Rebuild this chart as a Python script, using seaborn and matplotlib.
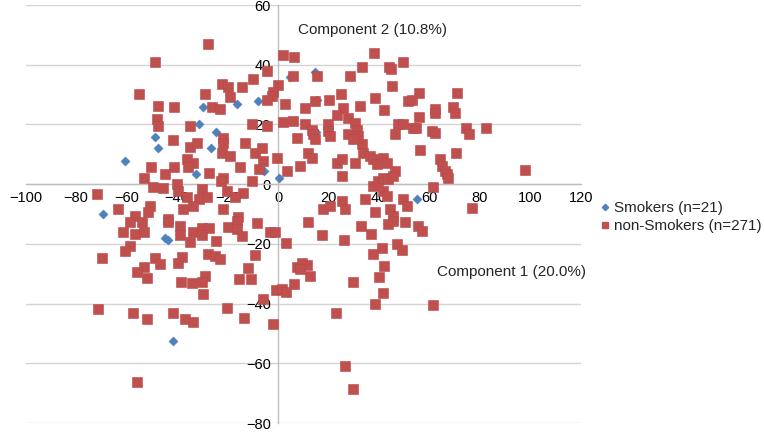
import matplotlib
matplotlib.use("Agg")
import matplotlib.pyplot as plt
from matplotlib.lines import Line2D
import seaborn as sns
import pandas as pd

# PCA scores (Component 1, Component 2)
smokers_x = [-29.7, 4.8, 14.7, 15.4, -16.4, -7.8, -31.2, -24.7, -48.7, -47.4, -26.7,
             -60.6, -32.5, -69.4, 15.0, -5.5, 0.5, 55.2, -44.8, -43.4, -41.7]
smokers_y = [26.0, 35.9, 37.4, 28.1, 26.9, 27.8, 20.0, 17.4, 15.8, 12.0, 12.2,
             7.8, 3.3, -10.0, 17.4, 4.4, 2.2, -5.0, -18.1, -18.6, -52.6]

nonsmokers_x = [
    # upper left
    -27.8, -48.7, -55.0, -28.9, -22.2, -19.8, -19.0, -47.5, -41.2, -26.1, -23.0,
    # upper middle
    2.1, 6.3, -4.5, -10.0, -14.4, 5.8, 15.3, 28.5, 33.4, 38.0, 44.1, 44.8, 49.4, 45.3,
    38.4, 25.0, 20.3, 14.7, 0.1, -1.9, -2.5, -4.5, 2.8, 10.7, 25.9, 32.5, 42.0, 51.6,
    # upper right
    56.0, 53.0, 71.0, 62.2, 69.3,
    # centre left
    -48.0, -47.4, -34.9, -21.7, -21.7, -41.7, -34.9, -32.2, -22.3, -19.0, -36.2, -33.5,
    -35.5, -50.4, -41.2, -44.8, -27.2, -21.7, -22.7, -53.1, -49.4, -45.4, -40.1, -39.5,
    -30.2, -36.2, -31.2, -28.2, -21.7, -20.3, -71.8, -63.2, -56.6, -50.7, -51.4, -43.6,
    -37.5, -33.5,
    # centre
    2.1, 6.1, 10.7, 13.3, 14.0, 14.7, 19.9, 19.9, 20.6, 7.4,
    -10.4, -4.5, -13.1, -9.1, -6.5, -5.8, -0.5, -15.0, -7.4, -10.4,
    3.7, 8.7, 12.0, 13.3, 23.5, 25.2, 25.2,
    23.2, 27.9, 30.5, 31.2, 31.8, 33.1, 33.8,
    27.9, 29.8, 30.5,
    36.4, 37.7, 39.1,
    46.3, 47.6, 49.6,
    41.7, 43.0, 46.3,
    37.7, 39.7, 41.7, 43.7, 45.7,
    41.7, 43.0, 34.5,
    17.9, 20.6, 25.2, 26.5,
    49.6, 51.0,
    -13.7, -17.0, -15.7,
    38.4, 44.4, 45.7,
    # centre right
    56.0, 53.6, 54.7, 62.2, 70.1, 60.9, 62.2, 74.5, 75.8, 82.4, 56.2, 70.5, 64.2, 64.8,
    66.1, 67.0, 67.4, 97.8, 61.3, 76.7,
    # lower left
    -58.6, -54.0, -61.3, -56.6, -53.1, -43.4, -38.8, -38.8, -34.9, -33.5,
    -30.2, -27.2, -30.2, -24.6, -19.7, -58.6, -60.6, -69.8, -27.6, -25.0,
    -23.0, -48.7, -46.7, -38.1, -39.7, -53.1, -56.0, -52.0, -28.9, -30.2,
    -34.2, -38.5, -29.6, -71.2, -57.3, -51.8, -41.7, -36.8, -33.8, -20.3,
    # lower middle
    -16.4, -8.4, -16.4, -14.4, -3.2, -1.2, 3.2, 12.0, 17.3, 26.1,
    32.8, 36.8, 43.7, 45.7, 50.3, 41.1, 37.5, 47.0, 49.0, -9.1,
    -11.8, -15.3, -10.8, 7.4, 9.4, 11.4, 12.7, 8.7, 6.5, -0.8,
    1.5, 3.2, 42.0, 40.1, 41.5, 29.8, 38.4, -6.1, 23.0, -13.5, -2.1,
    # outliers
    55.6, 56.9, 61.3, -55.7, 26.5, 29.6,
]
nonsmokers_y = [
    46.9, 40.9, 30.2, 30.2, 33.7, 32.7, 29.3, 26.3, 25.7, 26.0, 25.3,
    43.3, 42.6, 38.0, 35.2, 32.6, 36.3, 36.3, 36.3, 39.1, 43.9, 39.4, 38.7, 40.8, 32.8,
    28.9, 30.2, 28.3, 27.8, 33.3, 30.8, 29.4, 28.3, 26.7, 25.6, 25.6, 26.1, 25.0, 27.8,
    30.6, 28.3, 30.6, 25.3, 25.7,
    21.7, 19.4, 19.4, 15.6, 13.9, 14.8, 12.6, 13.9, 10.6, 9.4, 8.3, 7.2,
    5.6, 5.6, 5.6, 3.3, 3.9, 2.2, 1.1, 2.2, -1.1, -1.4, 0.0, -2.2,
    -1.7, -4.4, -5.0, -4.4, -8.3, -2.2, -3.3, -8.3, -10.6, -7.2, -9.4, -11.7,
    -8.3, -7.2,
    20.8, 21.1, 20.3, 18.3, 16.7, 15.0, 20.0, 17.8, 16.1, 15.6,
    20.3, 19.4, 13.9, 10.6, 12.2, 7.8, 8.9, 5.6, 5.2, 1.1,
    4.4, 6.1, 10.6, 8.9, 7.2, 8.3, 2.8,
    23.3, 22.2, 20.6, 18.3, 16.1, 13.3, 10.6,
    16.7, 15.0, 7.2,
    9.4, 8.3, 6.7,
    16.7, 20.0, 20.0,
    8.9, 7.2, 4.4,
    -0.6, 1.1, 2.2, 1.7, 2.8,
    -2.2, -3.9, -5.0,
    -8.3, -7.2, -5.6, -8.3,
    -5.0, -7.2,
    -2.8, -4.4, -11.1,
    -9.4, -8.3, -10.6,
    22.6, 18.9, 18.9, 23.9, 23.9, 17.8, 17.2, 18.9, 16.7, 18.9, 11.4, 10.3, 8.3, 6.1,
    4.4, 3.3, 2.2, 4.8, -1.1, -8.1,
    -12.8, -12.8, -15.9, -16.7, -15.9, -12.8, -13.9, -17.0, -19.4, -15.9,
    -14.8, -14.8, -17.0, -19.2, -14.4, -20.8, -22.4, -24.8, -23.3, -23.9,
    -25.2, -24.8, -26.7, -24.4, -26.3, -27.8, -29.4, -31.4, -30.6, -32.8,
    -33.0, -32.8, -36.7, -41.9, -43.3, -45.0, -43.3, -45.0, -46.3, -41.4,
    -12.2, -13.0, -15.0, -17.2, -15.9, -16.1, -19.7, -12.8, -17.0, -18.6,
    -14.1, -16.7, -13.3, -12.2, -12.8, -21.4, -23.3, -20.0, -22.2, -23.7,
    -28.1, -31.7, -31.9, -27.8, -26.3, -27.2, -30.6, -28.3, -33.3, -35.6,
    -35.0, -36.1, -27.4, -31.1, -36.3, -32.8, -40.3, -38.3, -43.0, -44.8, -47.0,
    -13.9, -15.6, -40.6, -66.1, -60.8, -68.6,
]

blue = "#4F81BD"
red = "#C0504D"

sns.set_style("white")
plt.rcParams['font.family'] = ['Liberation Sans', 'DejaVu Sans']

smokers = pd.DataFrame({"pc1": smokers_x, "pc2": smokers_y})
nonsmokers = pd.DataFrame({"pc1": nonsmokers_x, "pc2": nonsmokers_y})

fig = plt.figure(figsize=(7.64, 4.32), dpi=100)
ax = fig.add_axes([0.0334, 0.0208, 0.7271, 0.9676])

sns.scatterplot(data=smokers, x="pc1", y="pc2", marker="D", s=22, color=blue,
                edgecolor=blue, linewidth=0.3, ax=ax, zorder=3)
sns.scatterplot(data=nonsmokers, x="pc1", y="pc2", marker="s", s=45, color=red,
                edgecolor="#B8464A", linewidth=0.4, ax=ax, zorder=4)

ax.set_xlim(-100, 120)
ax.set_ylim(-80, 60)
ax.set_xticks(range(-100, 121, 20))
ax.set_yticks(range(-80, 61, 20))
ax.set_xlabel("")
ax.set_ylabel("")

ax.yaxis.grid(True, color="#D4D4D4", linewidth=1)
ax.xaxis.grid(False)
ax.set_axisbelow(True)

for side in ["top", "right"]:
    ax.spines[side].set_visible(False)
ax.spines["left"].set_position(("data", 0))
ax.spines["bottom"].set_position(("data", 0))
for side in ["left", "bottom"]:
    ax.spines[side].set_color("#BFBFBF")
    ax.spines[side].set_linewidth(1)
ax.tick_params(axis="both", length=0, labelsize=10.5, colors="black", pad=5)

ax.text(7.9, 51.7, "Component 2 (10.8%)", fontsize=11, ha="left", va="center")
ax.text(63, -29.3, "Component 1 (20.0%)", fontsize=11, ha="left", va="center")

handles = [
    Line2D([], [], linestyle="none", marker="D", markersize=3.2, color=blue),
    Line2D([], [], linestyle="none", marker="s", markersize=4.5, color=red),
]
fig.legend(handles, ["Smokers (n=21)", "non-Smokers (n=271)"],
           loc="center left", bbox_to_anchor=(0.778, 0.497), frameon=False,
           fontsize=11, handlelength=0.6, handletextpad=0.3, labelspacing=0.25,
           borderaxespad=0)

fig.savefig("out.png", dpi=100)
